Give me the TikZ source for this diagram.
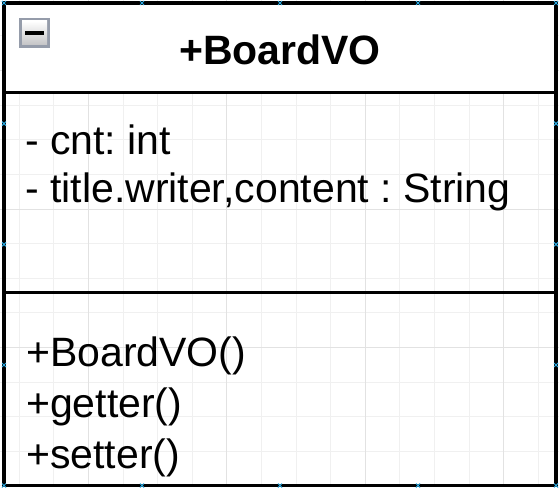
\documentclass[tikz,border=0pt]{standalone}
\usepackage{fontspec}
\setmainfont{Liberation Sans}
\frenchspacing
\definecolor{gridminor}{HTML}{F0F0F0}
\definecolor{gridmajor}{HTML}{E2E2E2}
\definecolor{handle}{HTML}{29A8E0}
\definecolor{iconborder}{HTML}{959CAA}
\definecolor{iconlow}{HTML}{C4C4C6}
\tikzset{
  boxline/.style={line width=3.3pt, draw=black},
  txt/.style={inner sep=0pt, anchor=base west, font=\fontsize{41}{49}\selectfont},
  titletxt/.style={inner sep=0pt, anchor=base, font=\fontsize{41}{49}\selectfont\bfseries},
  handlemark/.style={draw=handle, line width=1pt},
}
\begin{document}
\begin{tikzpicture}[x=1pt,y=-1pt]
\useasboundingbox (0,0) rectangle (559,487);
\fill[white] (0,0) rectangle (559,487);
% grid
\foreach \k in {0,...,15}{
  \pgfmathsetmacro{\gx}{19.3+34.6*\k}
  \draw[gridminor, line width=1pt] (\gx,0) -- (\gx,487);
}
\foreach \k in {0,...,14}{
  \pgfmathsetmacro{\gy}{1.4+34.6*\k}
  \draw[gridminor, line width=1pt] (0,\gy) -- (559,\gy);
}
\foreach \gx in {88.5,226.9,365.3,503.7}{
  \draw[gridmajor, line width=1pt] (\gx,0) -- (\gx,487);
}
\foreach \gy in {70.6,209,347.4}{
  \draw[gridmajor, line width=1pt] (0,\gy) -- (559,\gy);
}
% class box
\coordinate (tl) at (4,3);
\coordinate (br) at (556,485.5);
\coordinate (h1l) at (4,92.3);
\coordinate (h1r) at (556,92.3);
\coordinate (h2l) at (4,292.5);
\coordinate (h2r) at (556,292.5);
\fill[white] (tl) rectangle (h1r);
\draw[boxline] (h1l) -- (h1r);
\draw[boxline] (h2l) -- (h2r);
\draw[boxline] (tl) rectangle (br);
% collapse icon
\fill[iconborder] (19,18) rectangle (50,48);
\shade[top color=white, bottom color=iconlow] (22,21) rectangle (47,45);
\fill[black] (25,31.5) rectangle (44,35.5);
% texts
\node[titletxt] (title) at (280,64.3) {+BoardVO};
\node[txt] (a1) at (25,154.3) {- cnt: int};
\node[txt] (a2) at (25,202) {- title.writer,content : String};
\node[txt] (m1) at (26,366.5) {+BoardVO()};
\node[txt] (m2) at (26,417.5) {+getter()};
\node[txt] (m3) at (26,468.5) {+setter()};
% connection handles
\foreach \hx/\hy in {4/3,142/3,280/3,418/3,556/3,4/123.6,556/123.6,4/244.3,556/244.3,4/365,556/365,4/485.5,142/485.5,280/485.5,418/485.5,556/485.5}{
  \draw[handlemark] (\hx-2,\hy-2) -- (\hx+2,\hy+2) (\hx-2,\hy+2) -- (\hx+2,\hy-2);
}
\end{tikzpicture}
\end{document}
